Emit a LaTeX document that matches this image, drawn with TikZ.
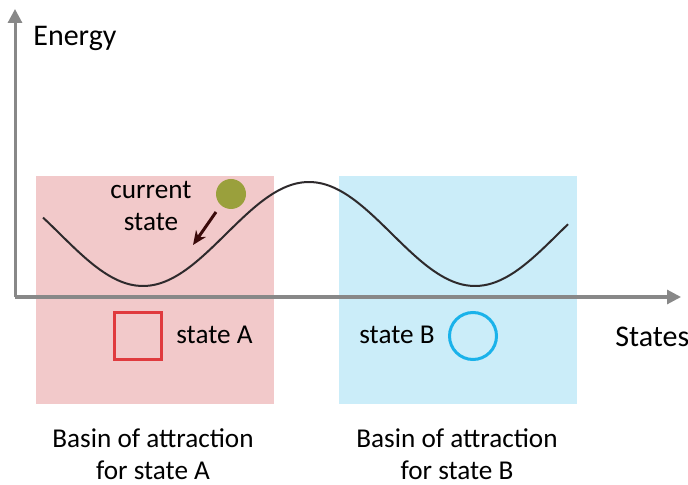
\documentclass[tikz,border=0pt]{standalone}
\usepackage{fontspec}
\setmainfont{Carlito}
\usetikzlibrary{arrows.meta}
\definecolor{pinkbg}{HTML}{F2C9CA}
\definecolor{bluebg}{HTML}{CBEDF9}
\definecolor{axisgray}{HTML}{888888}
\definecolor{ballgreen}{HTML}{9AA03C}
\definecolor{redsq}{HTML}{E03A3E}
\definecolor{bluecirc}{HTML}{1AB2EA}
\definecolor{curvecol}{HTML}{2E2A2C}
\definecolor{arrowcol}{HTML}{3A0A0A}
\tikzset{
  lbl/.style={font=\fontsize{13.6}{16}\selectfont, text=black, inner sep=0pt, align=center},
  axlbl/.style={font=\fontsize{15}{18}\selectfont, text=black, inner sep=0pt},
  basin/.style={draw=none, inner sep=0pt, minimum width=119pt, minimum height=114pt},
  axis/.style={draw=axisgray, line width=1.5pt, -{Triangle[width=7pt,length=7pt]}}
}
\begin{document}
\begin{tikzpicture}[x=0.5pt,y=-0.5pt]
\useasboundingbox (0,0) rectangle (688,485);
% basins
\node[basin, fill=pinkbg, anchor=north west] (basinA) at (36,176) {};
\node[basin, fill=bluebg, anchor=north west] (basinB) at (339,176) {};
% curve
\draw[curvecol, line width=1pt] plot[domain=43:568, samples=120, smooth] (\x, {234+52*cos(1.0843*(\x-143))});
% axes
\coordinate (origin) at (15,297);
\coordinate (ytip) at (15,9);
\coordinate (xtip) at (681,297);
\draw[axis] (origin) -- (ytip);
\draw[axis] (origin) -- (xtip);
% labels
\node[axlbl, anchor=west] (energy) at (33,38) {Energy};
\node[axlbl, anchor=west] (states) at (615,337) {States};
% ball and arrow
\node[circle, fill=ballgreen, minimum size=15pt, inner sep=0pt] (ball) at (231,194) {};
\coordinate (arrS) at (216,212);
\coordinate (arrE) at (193,245);
\draw[arrowcol, line width=1.5pt, -{Stealth[length=7pt,width=6pt]}] (arrS) -- (arrE);
\node[lbl] (current) at (151,206) {current\\state};
% states
\node[draw=redsq, line width=1.5pt, minimum size=23.5pt, inner sep=0pt] (sqA) at (138,336) {};
\node[lbl, anchor=west] (stateA) at (176,335) {state A};
\node[lbl, anchor=west] (stateB) at (359,335) {state B};
\node[circle, draw=bluecirc, line width=1.5pt, minimum size=23.5pt, inner sep=0pt] (circB) at (473,336) {};
% basin captions
\node[lbl] (capA) at (153,454) {Basin of attraction\\for state A};
\node[lbl] (capB) at (457,454) {Basin of attraction\\for state B};
\end{tikzpicture}
\end{document}
